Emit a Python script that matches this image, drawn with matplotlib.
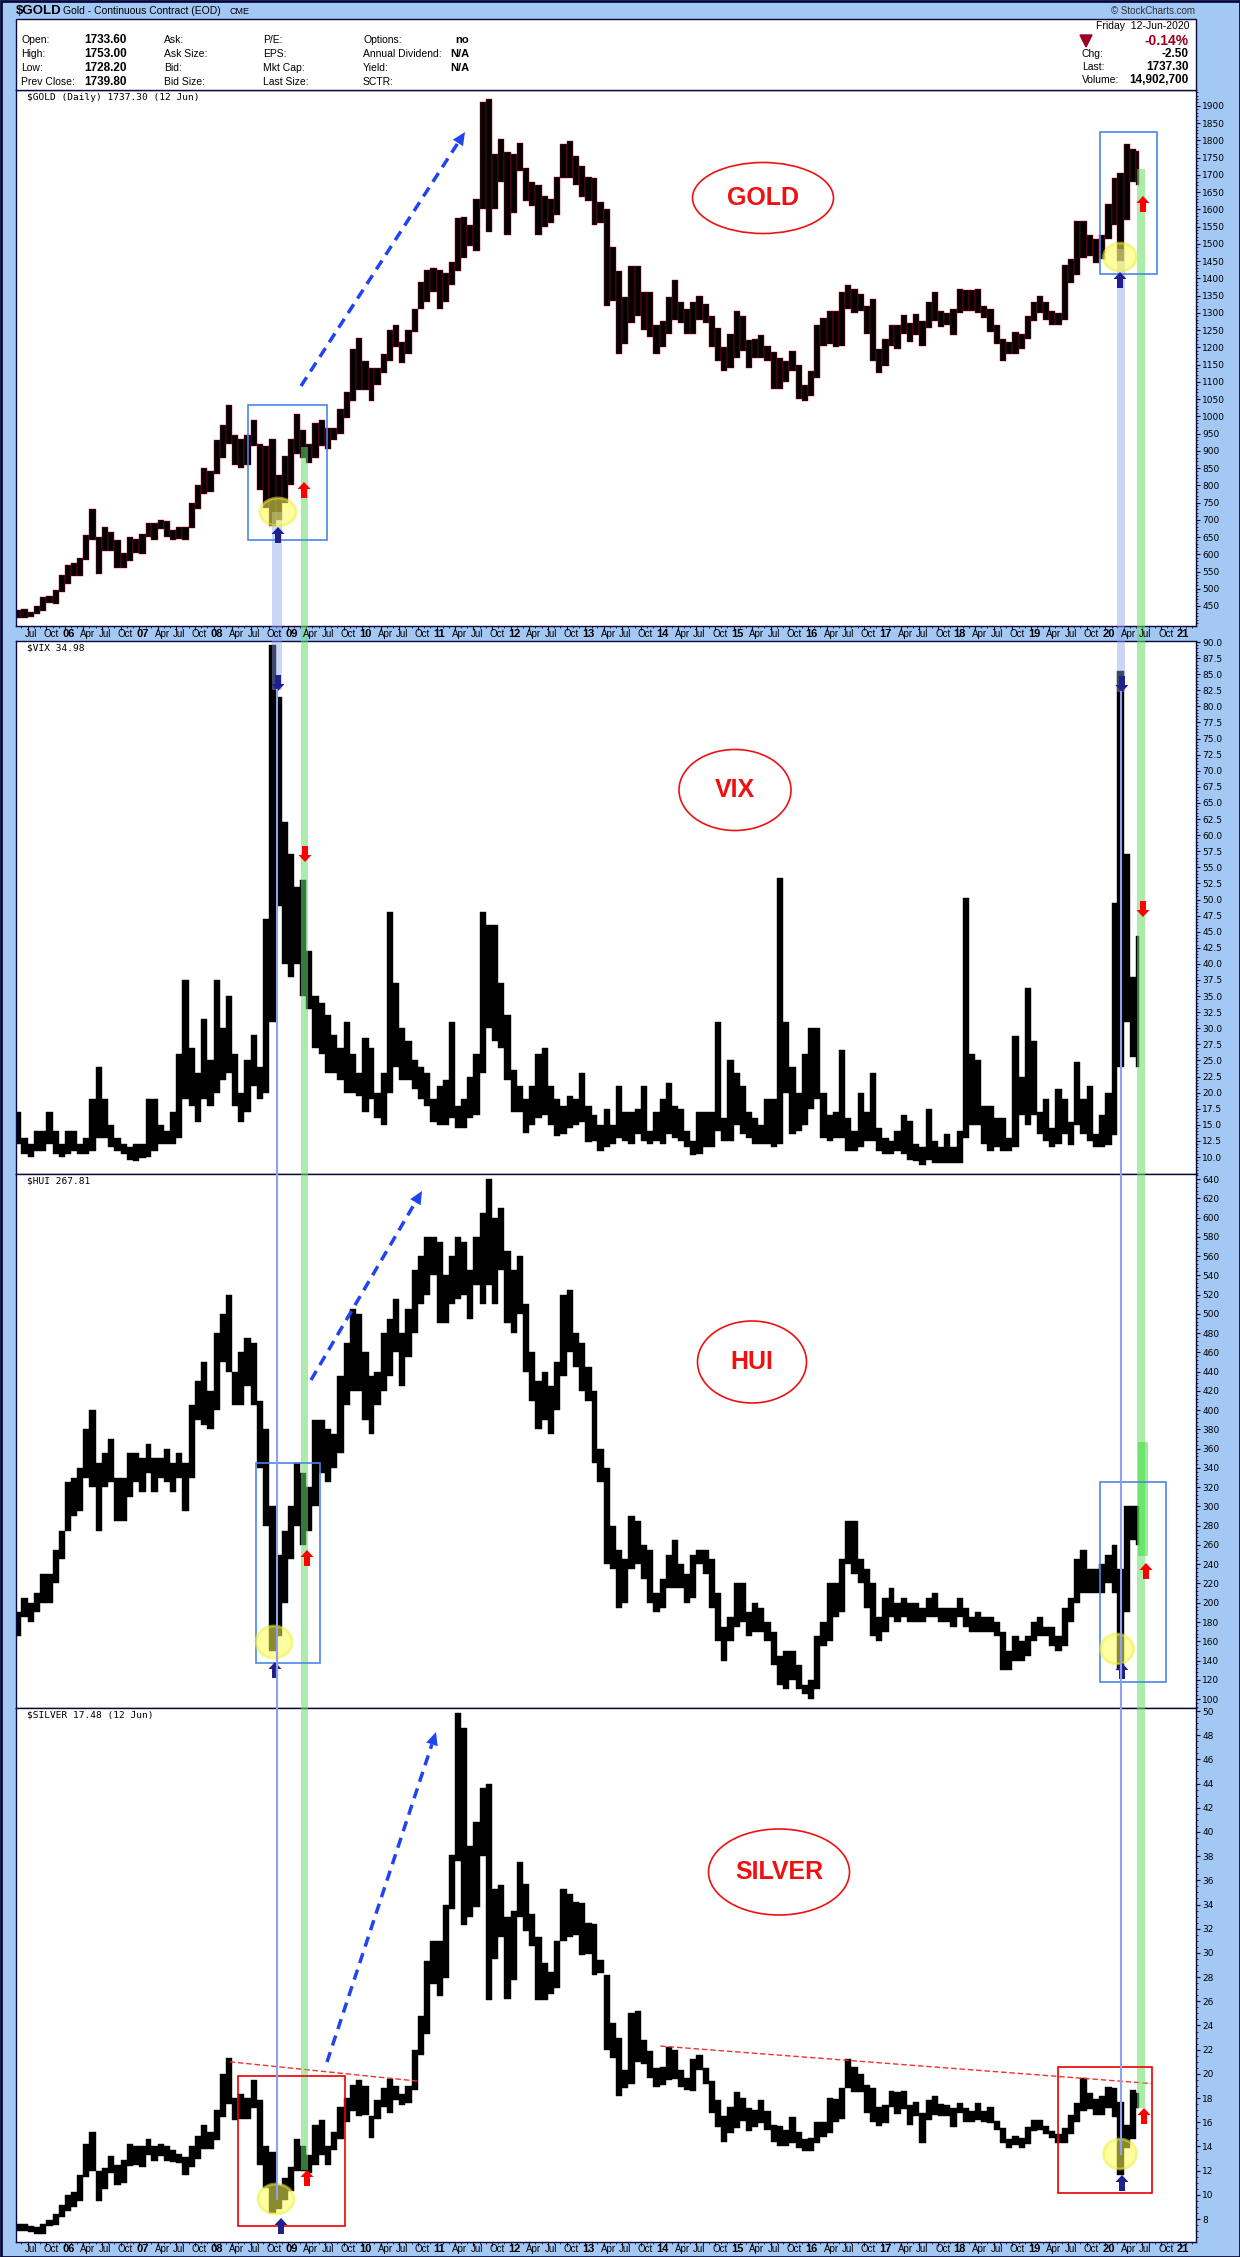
import numpy as np
import pandas as pd
import matplotlib
matplotlib.use('Agg')
import matplotlib.pyplot as plt
import matplotlib.dates as mdates
from matplotlib.ticker import MultipleLocator
from matplotlib.patches import Rectangle, Ellipse, FancyArrow, Polygon

# ---- data: monthly high / low, May 2005 .. 12 Jun 2020
months = pd.period_range('2005-05', '2020-06', freq='M')
last_day = pd.Timestamp('2020-06-12')

gold_high = [438, 442, 432, 450, 476, 480, 497, 540,
             570, 575, 588, 655, 732, 650, 680, 665, 640, 605, 650, 645,
             660, 690, 690, 700, 695, 670, 680, 680, 750, 800, 850, 840,
             930, 975, 1033, 945, 935, 945, 990, 920, 915, 935, 830, 885,
             935, 1007, 960, 920, 980, 990, 965, 965, 1020, 1070, 1195, 1227,
             1160, 1140, 1140, 1180, 1250, 1265, 1215, 1250, 1310, 1390, 1425, 1430,
             1425, 1415, 1447, 1575, 1578, 1555, 1630, 1912, 1920, 1760, 1805, 1765,
             1760, 1792, 1720, 1680, 1670, 1640, 1630, 1695, 1790, 1798, 1755, 1725,
             1695, 1690, 1620, 1600, 1490, 1420, 1345, 1435, 1435, 1360, 1360, 1265,
             1275, 1345, 1395, 1330, 1310, 1330, 1350, 1325, 1290, 1255, 1200, 1240,
             1305, 1290, 1220, 1225, 1235, 1205, 1185, 1170, 1160, 1190, 1150, 1090,
             1130, 1265, 1285, 1305, 1305, 1360, 1380, 1370, 1355, 1320, 1340, 1195,
             1225, 1265, 1265, 1295, 1270, 1298, 1275, 1330, 1360, 1305, 1300, 1310,
             1370, 1365, 1365, 1370, 1320, 1310, 1265, 1225, 1215, 1245, 1240, 1290,
             1330, 1350, 1330, 1305, 1300, 1440, 1455, 1565, 1565, 1525, 1515, 1525,
             1615, 1690, 1705, 1790, 1775, 1770]
gold_low = [414, 414, 418, 428, 436, 458, 456, 490,
            515, 538, 537, 582, 640, 542, 608, 610, 560, 560, 580, 605,
            600, 650, 640, 672, 650, 640, 645, 640, 675, 730, 775, 780,
            832, 880, 920, 860, 850, 860, 915, 785, 735, 681, 700, 750,
            800, 890, 880, 865, 880, 915, 905, 930, 950, 995, 1045, 1075,
            1075, 1045, 1090, 1125, 1160, 1200, 1155, 1180, 1245, 1310, 1330, 1360,
            1310, 1330, 1380, 1420, 1460, 1495, 1480, 1600, 1535, 1600, 1680, 1525,
            1590, 1710, 1625, 1610, 1525, 1550, 1560, 1585, 1690, 1690, 1670, 1635,
            1625, 1555, 1560, 1320, 1335, 1180, 1210, 1270, 1290, 1250, 1230, 1180,
            1200, 1240, 1280, 1270, 1240, 1240, 1280, 1270, 1200, 1160, 1130, 1140,
            1170, 1190, 1140, 1170, 1170, 1160, 1080, 1080, 1100, 1130, 1050, 1045,
            1060, 1110, 1205, 1210, 1200, 1205, 1310, 1300, 1305, 1240, 1160, 1125,
            1145, 1205, 1195, 1240, 1215, 1235, 1205, 1255, 1275, 1260, 1265, 1235,
            1300, 1305, 1305, 1300, 1285, 1245, 1210, 1160, 1180, 1180, 1195, 1225,
            1275, 1300, 1280, 1265, 1265, 1280, 1385, 1410, 1460, 1465, 1445, 1455,
            1515, 1555, 1450, 1570, 1680, 1670]

vix_high = [17, 13, 12, 14, 14, 17, 14, 12,
            14, 14, 12, 13, 19, 24, 19, 15, 13, 12, 11.5, 12,
            12, 19, 19, 15, 14, 17, 26, 37.5, 27, 23, 31.5, 25,
            37.5, 30, 35, 26, 20, 25, 29, 24, 47, 89.5, 81.5, 62,
            57, 52, 53, 42, 35, 34, 32, 29, 27, 31, 26, 23,
            28.5, 27, 20, 23, 48, 37, 30, 28, 25, 24, 23, 19,
            21, 22, 31, 18, 19, 22.5, 26, 48, 46, 46, 37, 32,
            23.5, 21, 19, 21, 26, 27, 21, 19, 18, 19.5, 19, 23,
            18, 16.5, 15, 17.5, 15, 21, 17, 17, 17.5, 21, 14, 17,
            19, 21.5, 18, 17.5, 14, 12.5, 17, 17, 17, 31, 16, 25,
            23, 21, 17, 16, 15, 19, 19, 53.3, 31, 24, 20, 26,
            30, 30, 20, 16.5, 17, 26.7, 16, 14, 20, 17, 23, 14.5,
            13, 12.5, 14, 16.5, 15.6, 12, 11.5, 17.5, 12.5, 11.5, 13.5, 11.5,
            14, 50.3, 26, 25, 18, 18, 16, 16, 13, 28.8, 22.5, 36.2,
            28, 17, 19, 14.5, 20.5, 19, 15.5, 24.8, 19, 21, 13.5, 16.5,
            20, 49.5, 85.5, 57, 38, 44.4]
vix_low = [12, 10.5, 10, 11, 11, 12, 10.5, 10,
           10.5, 11, 10.5, 10.5, 11, 13, 13, 11.5, 11, 10.5, 9.5, 9.4,
           9.9, 10, 11, 12, 12, 12, 13, 19, 18, 15.5, 19, 18,
           20, 22, 23, 18, 15.5, 17, 21, 19, 20, 31, 49, 40,
           38, 40, 35, 33, 27, 26, 23, 23, 22, 20, 20, 19.5,
           17, 19, 16, 15, 20, 24, 22, 22, 20.5, 19, 18, 15.5,
           15, 15, 16, 14.5, 14.5, 16, 16.5, 23, 30, 28, 27, 22,
           17, 17, 13.7, 15, 16, 16.5, 15, 13.3, 13.6, 14.5, 15, 15.5,
           12.3, 12.5, 11, 11.5, 12, 13, 12.5, 12, 13.5, 12.5, 12, 12.5,
           12, 13.5, 13, 12.5, 11.5, 10.3, 10.5, 11.5, 11.5, 14, 12.5, 12.5,
           15, 13.5, 13, 12, 12, 12, 11.5, 12, 20, 13.5, 14, 15,
           17.5, 19, 13, 12.5, 13, 13, 11, 11, 11.5, 12.5, 12.5, 11,
           10.5, 10.5, 11, 10.5, 9.5, 9.4, 8.8, 9.5, 9, 9, 9, 9,
           9, 13, 15, 15, 12, 11, 11.5, 11, 11, 11.5, 16.5, 15,
           16.5, 13.5, 12.5, 11.5, 12, 13.5, 11.8, 15, 13.5, 12.5, 11.5, 11.5,
           11.8, 13.4, 24, 31, 25.5, 24]

hui_high = [190, 205, 200, 210, 230, 230, 255, 275,
            325, 330, 340, 380, 400, 345, 355, 370, 330, 330, 355, 355,
            350, 365, 350, 350, 360, 345, 355, 345, 405, 430, 450, 420,
            480, 500, 520, 440, 460, 475, 470, 410, 380, 300, 250, 275,
            300, 345, 335, 320, 390, 390, 380, 375, 435, 470, 505, 500,
            460, 435, 440, 480, 495, 515, 480, 505, 545, 560, 580, 580,
            575, 540, 560, 580, 575, 545, 580, 605, 640, 600, 610, 565,
            545, 560, 510, 460, 430, 440, 425, 450, 520, 525, 480, 470,
            445, 420, 360, 340, 280, 255, 245, 290, 285, 260, 255, 210,
            225, 250, 265, 240, 230, 250, 255, 255, 245, 210, 175, 185,
            220, 220, 190, 200, 195, 180, 170, 145, 150, 150, 135, 115,
            120, 165, 180, 220, 220, 245, 285, 285, 245, 235, 220, 185,
            205, 215, 200, 205, 200, 200, 195, 205, 210, 195, 195, 195,
            205, 195, 185, 190, 185, 185, 180, 170, 150, 165, 160, 165,
            180, 185, 175, 175, 165, 195, 205, 245, 255, 235, 235, 240,
            250, 260, 235, 300, 300, 300]
hui_low = [165, 185, 180, 190, 200, 200, 220, 245,
           275, 290, 295, 330, 320, 275, 320, 325, 285, 285, 310, 325,
           315, 335, 315, 330, 325, 315, 330, 295, 330, 390, 385, 380,
           400, 450, 440, 405, 405, 425, 405, 340, 280, 150, 165, 200,
           245, 280, 260, 275, 300, 335, 325, 340, 355, 405, 420, 420,
           390, 375, 405, 420, 435, 460, 425, 455, 480, 510, 520, 540,
           490, 490, 510, 515, 520, 495, 530, 510, 530, 510, 545, 490,
           480, 500, 440, 410, 380, 390, 375, 400, 435, 460, 445, 420,
           410, 345, 325, 240, 235, 195, 200, 235, 240, 225, 200, 190,
           195, 215, 215, 215, 200, 205, 240, 230, 195, 160, 140, 160,
           175, 180, 165, 170, 170, 160, 135, 115, 110, 120, 110, 105,
           100, 110, 155, 160, 185, 190, 240, 230, 220, 195, 165, 160,
           170, 185, 180, 185, 180, 180, 180, 185, 185, 180, 180, 175,
           185, 175, 170, 170, 170, 170, 165, 130, 130, 140, 140, 145,
           160, 165, 165, 155, 150, 155, 180, 200, 210, 210, 210, 210,
           220, 210, 130, 190, 265, 260]

silver_high = [7.6, 7.6, 7.4, 7.3, 7.6, 7.9, 8.4, 9.2,
               10.0, 10.2, 11.6, 14.2, 15.2, 12.0, 12.2, 13.2, 12.5, 12.9, 14.2, 14.0,
               14.0, 14.6, 14.0, 14.2, 14.0, 13.7, 13.4, 13.1, 14.0, 14.9, 15.8, 15.2,
               17.0, 20.0, 21.3, 18.0, 18.3, 18.0, 19.5, 17.8, 14.0, 13.5, 10.8, 11.4,
               12.3, 14.6, 14.0, 13.3, 15.8, 16.2, 14.0, 15.2, 17.3, 18.0, 19.1, 19.5,
               19.0, 16.5, 17.8, 18.8, 19.6, 19.0, 18.3, 19.0, 22.0, 24.8, 29.3, 31.0,
               31.0, 34.0, 38.1, 49.8, 48.6, 38.8, 40.8, 43.6, 44.0, 35.3, 35.6, 33.0,
               33.5, 37.5, 35.7, 33.2, 31.3, 29.2, 28.4, 31.0, 35.3, 34.9, 34.2, 34.1,
               32.5, 32.4, 29.4, 28.2, 24.2, 23.0, 20.3, 25.0, 25.2, 22.8, 21.9, 20.5,
               20.6, 22.2, 22.0, 20.3, 19.7, 21.2, 21.6, 20.5, 19.4, 17.8, 16.5, 17.3,
               18.5, 18.0, 17.2, 17.0, 17.8, 16.9, 15.8, 15.7, 15.4, 16.4, 15.2, 14.6,
               14.7, 16.0, 16.0, 18.0, 17.9, 18.8, 21.2, 20.6, 20.0, 19.1, 18.8, 17.3,
               17.4, 18.6, 18.5, 18.6, 17.4, 17.7, 16.8, 17.8, 18.2, 17.5, 17.4, 17.2,
               17.6, 17.2, 16.9, 17.6, 16.9, 17.3, 16.1, 15.5, 14.6, 14.9, 14.7, 15.6,
               16.2, 16.2, 15.7, 15.3, 15.0, 15.5, 16.6, 17.6, 19.7, 18.4, 17.9, 18.2,
               18.9, 18.8, 17.7, 15.8, 18.7, 18.4]
silver_low = [7.0, 7.0, 6.9, 6.8, 6.8, 7.4, 7.5, 8.2,
              8.7, 9.0, 9.5, 11.5, 12.0, 9.5, 10.5, 11.8, 10.8, 11.0, 12.4, 12.5,
              12.3, 13.3, 12.8, 13.2, 12.8, 12.7, 12.6, 11.6, 12.3, 13.0, 13.8, 13.8,
              14.5, 16.4, 17.5, 16.2, 16.3, 16.3, 17.2, 12.5, 10.6, 8.5, 8.8, 9.6,
              10.3, 12.0, 12.0, 11.8, 12.5, 13.3, 12.5, 13.7, 14.6, 16.0, 16.9, 16.5,
              16.6, 14.7, 16.3, 17.3, 16.8, 17.8, 17.4, 17.6, 18.7, 21.6, 23.3, 27.4,
              26.4, 27.9, 33.6, 37.6, 32.3, 33.0, 33.8, 38.0, 26.1, 29.5, 31.3, 26.2,
              27.8, 33.0, 31.8, 30.6, 26.1, 26.1, 26.6, 27.1, 31.0, 31.3, 31.5, 29.8,
              29.9, 28.2, 28.3, 22.0, 21.3, 18.2, 18.8, 19.2, 21.0, 20.8, 19.7, 18.9,
              19.1, 19.5, 19.6, 18.9, 18.7, 18.6, 20.3, 19.2, 16.8, 15.6, 14.4, 15.1,
              15.5, 16.1, 15.3, 15.6, 15.9, 15.4, 14.4, 14.0, 14.0, 14.3, 13.9, 13.6,
              13.6, 14.3, 14.8, 15.1, 16.0, 16.3, 18.8, 18.5, 18.5, 16.8, 16.0, 15.7,
              15.9, 17.3, 16.7, 17.1, 15.8, 16.5, 14.3, 16.2, 16.6, 16.5, 16.5, 15.6,
              16.8, 16.0, 16.0, 16.2, 16.0, 15.9, 15.4, 14.3, 13.9, 14.1, 13.9, 14.2,
              15.3, 15.4, 15.0, 14.7, 14.3, 14.3, 15.0, 16.0, 16.9, 17.1, 16.6, 16.6,
              17.2, 16.4, 11.6, 13.9, 14.6, 17.2]

gold_ticks = list(range(450, 1901, 50))
vix_ticks = list(np.arange(10, 90.01, 2.5))
hui_ticks = list(range(100, 641, 20))
silver_ticks = list(range(8, 51, 2))

# silver resistance lines (date, price)
silver_res1 = (['2008-03-20', '2010-10-01'], [21.0, 19.4])
silver_res2 = (['2014-01-05', '2020-08-15'], [22.3, 19.2])

# ---- layout (pixels)
W, H = 1240, 2257
L, R = 16, 1196
BG = '#a4c8f4'
NAVY = '#0a0a3a'
x_left = pd.Timestamp('2005-05-05')
x_right = pd.Timestamp('2021-03-22')
xl, xr = mdates.date2num(x_left), mdates.date2num(x_right)

plt.rcParams['font.family'] = ['DejaVu Sans']
fig = plt.figure(figsize=(W / 100, H / 100), dpi=100)
fig.patch.set_facecolor(BG)

starts = mdates.date2num(months.to_timestamp(how='start'))
ends = mdates.date2num((months + 1).to_timestamp(how='start'))
ends[-1] = mdates.date2num(last_day + pd.Timedelta(days=1))
starts[0] = max(starts[0], xl)
widths = ends - starts

quarters = pd.date_range('2005-07-01', '2021-01-01', freq='QS-JAN')
month_ticks = pd.date_range('2005-06-01', '2021-03-01', freq='MS')


def panel(top, bottom, high, low, ylim, ticks, fmt, minor, xticks=False, edge=None):
    ax = fig.add_axes([L / W, 1 - bottom / H, (R - L) / W, (bottom - top) / H])
    ax.set_facecolor('white')
    high = np.array(high, float)
    low = np.array(low, float)
    ax.bar(starts, high - low, width=widths, bottom=low, align='edge', color='black',
           edgecolor=edge or 'black', linewidth=0.3)
    ax.set_xlim(xl, xr)
    ax.set_ylim(*ylim)
    ax.yaxis.tick_right()
    ax.set_yticks(ticks)
    ax.set_yticklabels([fmt.format(t) for t in ticks], fontsize=6.5)
    ax.yaxis.set_minor_locator(MultipleLocator(minor))
    ax.tick_params(axis='y', which='major', length=3, width=0.8, pad=1.5, color=NAVY)
    ax.tick_params(axis='y', which='minor', length=1.5, width=0.6, color=NAVY)
    if xticks:
        ax.set_xticks(mdates.date2num(quarters))
        ax.set_xticks(mdates.date2num(month_ticks), minor=True)
        ax.tick_params(axis='x', which='major', length=3, color=NAVY, labelbottom=False)
        ax.tick_params(axis='x', which='minor', length=1.5, color=NAVY)
    else:
        ax.set_xticks([])
    for s in ax.spines.values():
        s.set_color(NAVY)
        s.set_linewidth(1.0)
    return ax


ax_gold = panel(90, 626, gold_high, gold_low, (392, 1946), gold_ticks, '{:d}', 10,
                xticks=True, edge='#cc0033')
ax_vix = panel(641, 1174, vix_high, vix_low, (7.36, 90.16), vix_ticks, '{:.1f}', 0.5)
ax_hui = panel(1174, 1708, hui_high, hui_low, (90.7, 645.2), hui_ticks, '{:d}', 4)
ax_sil = panel(1708, 2242, silver_high, silver_low, (6.1, 50.25), silver_ticks, '{:d}', 0.5,
               xticks=True)

for res in (silver_res1, silver_res2):
    ax_sil.plot(mdates.date2num(pd.to_datetime(res[0])), res[1], color='#ee3333',
                lw=1.0, ls=(0, (4, 2)), zorder=5)

# ---- overlay in pixel coordinates
ov = fig.add_axes([0, 0, 1, 1])
ov.set_xlim(0, W)
ov.set_ylim(H, 0)
ov.axis('off')
ov.patch.set_visible(False)


def px(d):
    return L + (mdates.date2num(pd.Timestamp(d)) - xl) / (xr - xl) * (R - L)


# header
ov.add_patch(Rectangle((L, 19), R - L, 71, facecolor='white', edgecolor=NAVY, lw=1))
ov.text(16, 11, '$GOLD', fontsize=9.5, fontweight='bold', family='Liberation Sans', va='center')
ov.text(63, 11, 'Gold - Continuous Contract (EOD)', fontsize=7.5, family='Liberation Sans', va='center')
ov.text(230, 11, 'CME', fontsize=6.5, family='Liberation Sans', va='center')
ov.text(1195, 11, '\u00a9 StockCharts.com', fontsize=7, family='Liberation Sans',
        va='center', ha='right', color='#333333')

rows = [40, 54, 68, 82]
col1 = [('Open:', '1733.60'), ('High:', '1753.00'), ('Low:', '1728.20'), ('Prev Close:', '1739.80')]
for y, (lab, val) in zip(rows, col1):
    ov.text(21, y, lab, fontsize=7.5, family='Liberation Sans', va='center')
    ov.text(84, y, val, fontsize=8.5, fontweight='bold', family='Liberation Sans', va='center')
for x, labs in ((164, ['Ask:', 'Ask Size:', 'Bid:', 'Bid Size:']),
                (263, ['P/E:', 'EPS:', 'Mkt Cap:', 'Last Size:']),
                (363, ['Options:', 'Annual Dividend:', 'Yield:', 'SCTR:'])):
    for y, lab in zip(rows, labs):
        ov.text(x, y, lab, fontsize=7.5, family='Liberation Sans', va='center')
for y, val in zip(rows[:3], ['no', 'N/A', 'N/A']):
    ov.text(469, y, val, fontsize=8, fontweight='bold', family='Liberation Sans', va='center', ha='right')

ov.text(1189, 26, 'Friday  12-Jun-2020', fontsize=7.5, family='Liberation Sans', va='center', ha='right')
ov.add_patch(Polygon([(1080, 35), (1092, 35), (1086, 47)], color='#990022'))
ov.text(1189, 41, '-0.14%', fontsize=10, fontweight='bold', family='Liberation Sans',
        va='center', ha='right', color='#990022')
for y, lab, val in ((54, 'Chg:', '-2.50'), (67, 'Last:', '1737.30'), (80, 'Volume:', '14,902,700')):
    ov.text(1082, y, lab, fontsize=7.5, family='Liberation Sans', va='center')
    ov.text(1189, y, val, fontsize=8.5, fontweight='bold', family='Liberation Sans', va='center', ha='right')

# panel titles
for y, t in ((98, '$GOLD (Daily) 1737.30 (12 Jun)'), (648, '$VIX 34.98'),
             (1181, '$HUI 267.81'), (1715, '$SILVER 17.48 (12 Jun)')):
    ov.text(27, y, t, fontsize=6.8, family='DejaVu Sans Mono', va='center')

# x axis labels
for d in quarters:
    yr = d.month == 1
    lab = d.strftime('%y') if yr else d.strftime('%b')
    for y in (634, 2249):
        ov.text(px(d) - 3, y, lab, fontsize=8 if yr else 7, fontweight='bold' if yr else 'normal',
                family='Liberation Sans', va='center', ha='left')

# outer frame
ov.add_patch(Rectangle((0.5, 0.5), W - 1, H - 1, fill=False, edgecolor=NAVY, lw=2))

# ---- annotations (pixel positions)
LAV = '#8ea0ee'
GRN = '#66dd66'
# vertical bands
ov.add_patch(Rectangle((272, 512), 10, 178, color=LAV, alpha=0.45, lw=0))
ov.plot([277, 277], [690, 2199], color=LAV, lw=1.5)
ov.add_patch(Rectangle((1117, 249), 8, 443, color=LAV, alpha=0.45, lw=0))
ov.plot([1121, 1121], [692, 2154], color=LAV, lw=1.5)
ov.add_patch(Rectangle((301, 447), 7, 1723, color=GRN, alpha=0.55, lw=0))
ov.add_patch(Rectangle((1137, 169), 8, 1939, color=GRN, alpha=0.55, lw=0))
ov.add_patch(Rectangle((1138, 1442), 10, 114, color='#33dd33', alpha=0.5, lw=0))

# boxes
for (x0, y0, x1, y1) in ((248, 405, 327, 540), (1100, 132, 1157, 274),
                         (256, 1463, 320, 1663), (1100, 1482, 1166, 1682)):
    ov.add_patch(Rectangle((x0, y0), x1 - x0, y1 - y0, fill=False, edgecolor='#4a86e8', lw=1.2))
for (x0, y0, x1, y1) in ((238, 2076, 345, 2226), (1058, 2067, 1152, 2193)):
    ov.add_patch(Rectangle((x0, y0), x1 - x0, y1 - y0, fill=False, edgecolor='#ee0000', lw=1.2))

# yellow circles
for (cx, cy, w, h) in ((278, 512, 36, 28), (1120, 257, 33, 28), (274, 1642, 36, 32),
                       (1117, 1649, 33, 30), (276, 2199, 36, 30), (1120, 2154, 33, 30)):
    ov.add_patch(Ellipse((cx, cy), w, h, facecolor='#ffff55', alpha=0.55, edgecolor='#eeee44', lw=2))


def block_arrow(x, tip, up, color):
    n = 16
    y0 = tip + n if up else tip - n
    ov.add_patch(FancyArrow(x, y0, 0, tip - y0, width=6, head_width=13, head_length=7,
                            length_includes_head=True, color=color, lw=0))


NAV_ARROW = '#1f1f8f'
for x, tip in ((278, 527), (1120, 272), (275, 1662), (1122, 1663), (281, 2218), (1122, 2175)):
    block_arrow(x, tip, True, NAV_ARROW)
for x, tip in ((278, 691), (1122, 692)):
    block_arrow(x, tip, False, NAV_ARROW)
for x, tip in ((304, 482), (1143, 196), (307, 1550), (1146, 1563), (307, 2170), (1144, 2108)):
    block_arrow(x, tip, True, '#ff0000')
for x, tip in ((305, 862), (1143, 917)):
    block_arrow(x, tip, False, '#ff0000')


def dashed_arrow(p0, p1):
    p0, p1 = np.array(p0, float), np.array(p1, float)
    d = (p1 - p0) / np.hypot(*(p1 - p0))
    n = np.array([-d[1], d[0]])
    base = p1 - d * 13
    ov.plot([p0[0], base[0]], [p0[1], base[1]], color='#2244ee', lw=2.5, ls=(0, (3, 2)))
    ov.add_patch(Polygon([p1, base + n * 6, base - n * 6], color='#2244ee', lw=0))


dashed_arrow((301, 386), (465, 132))
dashed_arrow((311, 1380), (422, 1191))
dashed_arrow((327, 2062), (436, 1732))

# labels in red ellipses
for (cx, cy, w, h, t) in ((763, 198, 141, 71, 'GOLD'), (735, 790, 112, 81, 'VIX'),
                          (752, 1362, 109, 82, 'HUI'), (779, 1872, 141, 86, 'SILVER')):
    ov.add_patch(Ellipse((cx, cy), w, h, fill=False, edgecolor='#ee1111', lw=1.2))
    ov.text(cx, cy, t, fontsize=18, fontweight='bold', color='#ee1111',
            family='Liberation Sans', ha='center', va='center')

fig.savefig('out.png', dpi=100, facecolor=fig.get_facecolor())
